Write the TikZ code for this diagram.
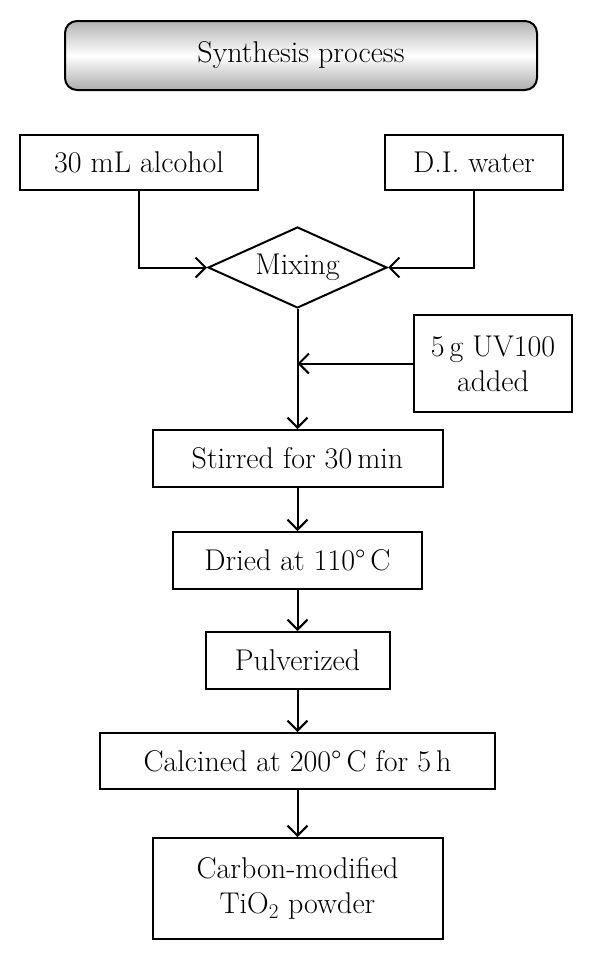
\documentclass[tikz,border=0pt]{standalone}
\usepackage{fontspec}
\usetikzlibrary{arrows.meta,shapes.geometric}
\tikzset{
  stepbox/.style = {draw, line width = 2pt, fill = white, inner sep = 0pt,
                    align = center, font = \fontsize{30}{35}\selectfont},
  flow/.style = {line width = 2pt,
                 -{Straight Barb[length = 10pt, width = 20pt, line width = 2pt]}},
}
\begin{document}
\begin{tikzpicture}[x = 1pt, y = -1pt]
\useasboundingbox (0, 0) rectangle (600, 961);
\draw (301, 55.5) node[stepbox, rounded corners = 12pt, top color = gray!60,
      bottom color = gray!65, middle color = white, minimum width = 472pt,
      minimum height = 69pt] (title) {Synthesis process};
\draw (139, 162.5) node[stepbox, minimum width = 238pt, minimum height = 55pt] (alcohol) {30 mL alcohol};
\draw (474, 162.5) node[stepbox, minimum width = 178pt, minimum height = 55pt] (water) {D.I. water};
\draw (297.5, 267.5) node[stepbox, diamond, aspect = 2.2, minimum width = 179pt,
      minimum height = 81pt] (mix) {Mixing};
\draw (493, 363.5) node[stepbox, minimum width = 158pt, minimum height = 97pt] (uv) {5\,g UV100\\added};
\draw (297.5, 458.5) node[stepbox, minimum width = 290pt, minimum height = 57pt] (stir) {Stirred for 30\,min};
\draw (297.5, 560.5) node[stepbox, minimum width = 249pt, minimum height = 57pt] (dried) {Dried at 110\textdegree\,C};
\draw (297.5, 660.5) node[stepbox, minimum width = 184pt, minimum height = 57pt] (pulv) {Pulverized};
\draw (297.5, 761) node[stepbox, minimum width = 395pt, minimum height = 56pt] (calc) {Calcined at 200\textdegree\,C for 5\,h};
\draw (297.5, 888.5) node[stepbox, minimum width = 290pt, minimum height = 101pt] (final) {Carbon-modified\\TiO\textsubscript{2} powder};
\coordinate (join) at (mix.south |- uv.west);
\draw [flow] (alcohol.south) |- (mix.west);
\draw [flow] (water.south) |- (mix.east);
\draw [flow] (uv.west) -- (join);
\draw [flow] (mix.south) -- (stir.north);
\draw [flow] (stir) -- (dried);
\draw [flow] (dried) -- (pulv);
\draw [flow] (pulv) -- (calc);
\draw [flow] (calc) -- (final);
\end{tikzpicture}
\end{document}
